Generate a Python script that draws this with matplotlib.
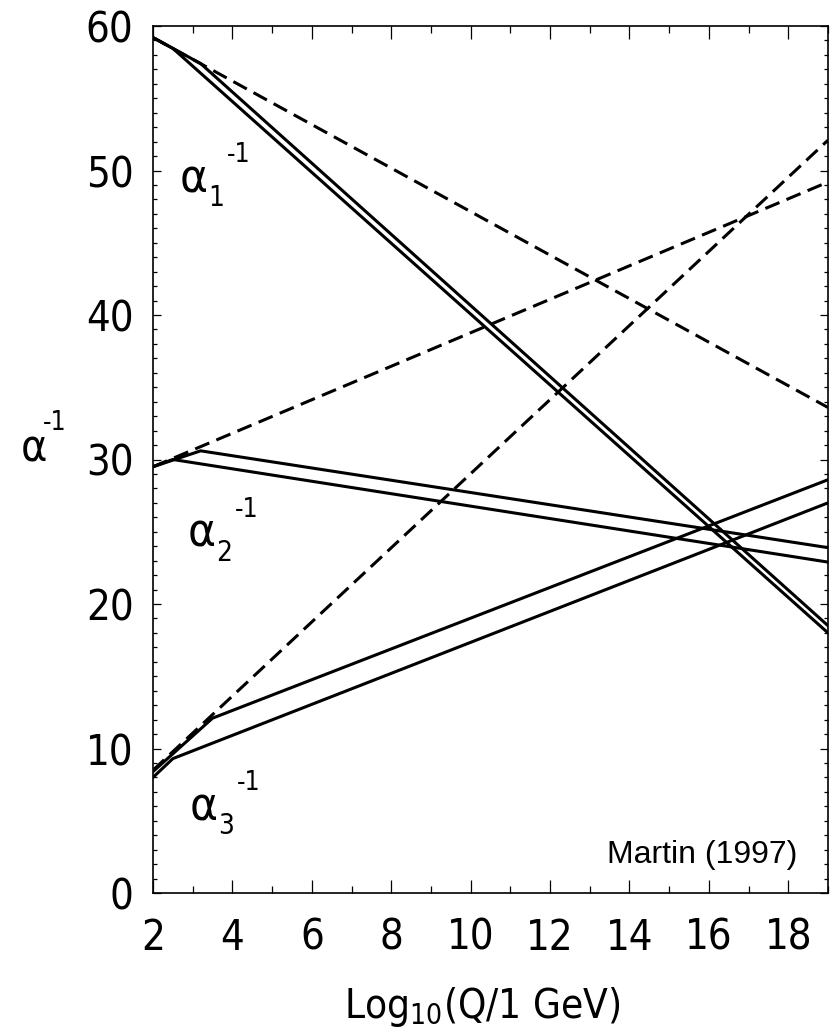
import matplotlib
matplotlib.use("Agg")
import matplotlib.pyplot as plt
from matplotlib.ticker import MultipleLocator

plt.rcParams['font.family'] = ['DejaVu Sans']
plt.rcParams['font.stretch'] = 'condensed'
plt.rcParams['mathtext.fontset'] = 'custom'
plt.rcParams['mathtext.rm'] = 'DejaVu Sans:stretch=condensed'

# Standard Model running (dashed)
x_sm = [2, 19]
a1_sm = [59.2, 33.6]
a2_sm = [29.5, 49.2]
a3_sm = [8.5, 52.1]

# MSSM running, two thresholds each (solid)
a1_lo_x = [2, 2.5, 19]
a1_lo_y = [59.2, 58.45, 18.0]
a1_hi_x = [2, 3.2, 19]
a1_hi_y = [59.2, 57.4, 18.5]

a2_lo_x = [2, 2.5, 19]
a2_lo_y = [29.5, 30.0, 22.9]
a2_hi_x = [2, 3.2, 19]
a2_hi_y = [29.5, 30.6, 23.9]

a3_lo_x = [2, 2.5, 19]
a3_lo_y = [8.0, 9.3, 27.0]
a3_hi_x = [2, 3.5, 19]
a3_hi_y = [8.4, 12.1, 28.6]

W, H = 831, 1028
fig = plt.figure(figsize=(W / 100, H / 100), dpi=100)
ax = fig.add_axes([153 / W, 1 - 893 / H, (828 - 153) / W, (893 - 26) / H])

lw = 2.2
for y in (a1_sm, a2_sm, a3_sm):
    ax.plot(x_sm, y, color='black', lw=lw, dashes=(5, 2.5), solid_capstyle='butt')
for xs, ys in [(a1_lo_x, a1_lo_y), (a1_hi_x, a1_hi_y),
               (a2_lo_x, a2_lo_y), (a2_hi_x, a2_hi_y),
               (a3_lo_x, a3_lo_y), (a3_hi_x, a3_hi_y)]:
    ax.plot(xs, ys, color='black', lw=lw, solid_joinstyle='round')

ax.set_xlim(2, 19)
ax.set_ylim(0, 60)
ax.xaxis.set_major_locator(MultipleLocator(2))
ax.xaxis.set_minor_locator(MultipleLocator(1))
ax.yaxis.set_major_locator(MultipleLocator(10))
ax.yaxis.set_minor_locator(MultipleLocator(1))

ax.tick_params(axis='both', which='both', direction='in', top=True, right=True, width=0.9)
ax.tick_params(axis='x', which='major', length=9.4, pad=17, labelsize=30)
ax.tick_params(axis='x', which='minor', length=5)
ax.tick_params(axis='y', which='major', length=5.8, pad=14, labelsize=30)
ax.tick_params(axis='y', which='minor', length=3)
for s in ax.spines.values():
    s.set_linewidth(1.2)


# curve labels: alpha, subscript right after it, "-1" raised further right
def alpha_label(x, y, sub):
    a = ax.text(x, y, 'α', fontsize=34, va='baseline', ha='left')
    s = ax.annotate(sub, xy=(1, 0), xycoords=a, xytext=(0, -3),
                    textcoords='offset points', fontsize=20, va='baseline')
    ax.annotate('-1', xy=(1, 0), xycoords=s, xytext=(2, 36),
                textcoords='offset points', fontsize=19, va='baseline')


alpha_label(2.68, 48.5, '1')
alpha_label(2.88, 23.95, '2')
alpha_label(2.93, 5.05, '3')

ax.text(0.955, 0.035, 'Martin (1997)', transform=ax.transAxes, ha='right',
        va='baseline', fontsize=23, family='Liberation Sans', stretch='normal')

fig.text(21 / W, 1 - 462 / H, 'α', fontsize=32, ha='left', va='baseline')
fig.text(43 / W, 1 - 430 / H, '-1', fontsize=19, ha='left', va='baseline')
fig.text(482 / W, 1 - 1018 / H, 'Log$_{10}$(Q/1 GeV)', fontsize=29,
         ha='center', va='baseline')

fig.savefig('out.png', dpi=100)
